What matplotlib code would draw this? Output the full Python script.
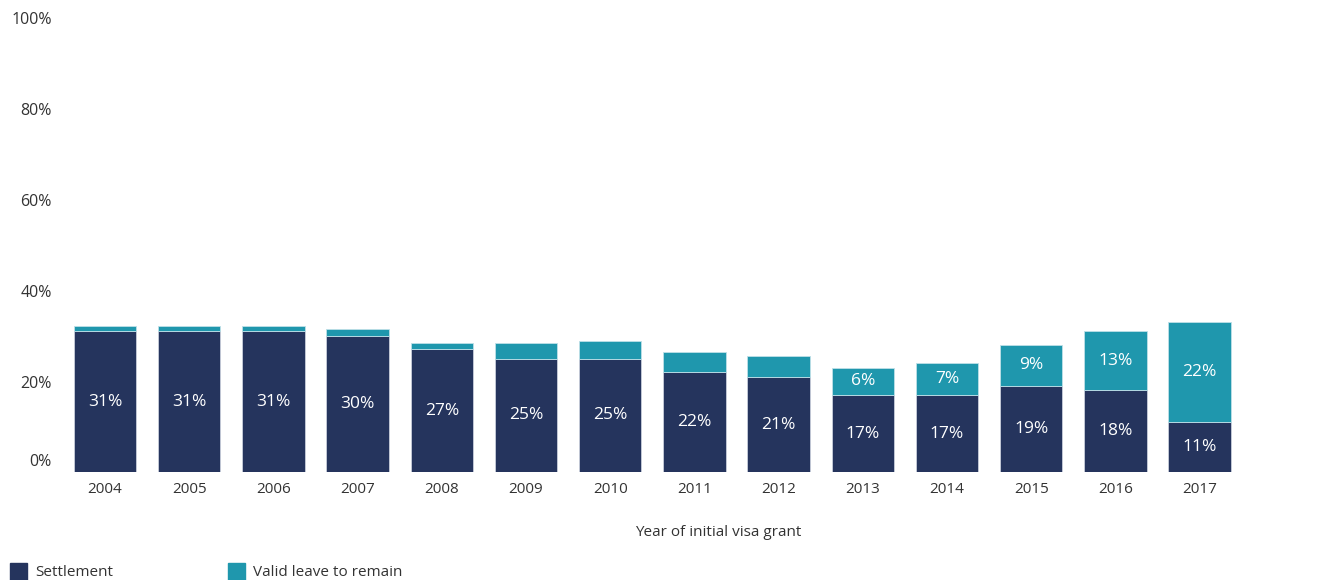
import matplotlib
matplotlib.use("Agg")
import matplotlib.pyplot as plt
import matplotlib.transforms as mtransforms
from matplotlib.patches import Rectangle

years = ["2004", "2005", "2006", "2007", "2008", "2009", "2010",
         "2011", "2012", "2013", "2014", "2015", "2016", "2017"]
settlement = [31, 31, 31, 30, 27, 25, 25, 22, 21, 17, 17, 19, 18, 11]
valid_leave = [1.2, 1.2, 1.2, 1.5, 1.5, 3.4, 3.9, 4.5, 4.5, 6, 7, 9, 13, 22]
# only segments large enough carry a value label
valid_labelled = [False] * 9 + [True] * 5
y_ticks = [0, 20, 40, 60, 80, 100]

NAVY = "#25345D"
TEAL = "#1F97AD"
TEXT = "#333333"
FONT = "Open Sans"

plt.rcParams["font.family"] = [FONT, "DejaVu Sans"]

fig = plt.figure(figsize=(13.33, 5.8), dpi=100)
ax = fig.add_axes([0.0472, 0.1857, 0.8843, 0.7845])

x = list(range(len(years)))
bar_w = 0.74
ax.bar(x, settlement, width=bar_w, color=NAVY, edgecolor="#c9cedb",
       linewidth=0.6, zorder=2)
ax.bar(x, valid_leave, width=bar_w, bottom=settlement, color=TEAL,
       edgecolor="#bfe0e8", linewidth=0.6, zorder=2)

for xi, s, v, lab in zip(x, settlement, valid_leave, valid_labelled):
    ax.text(xi, s / 2, f"{s}%", ha="center", va="center", color="white",
            fontsize=12.5, zorder=3)
    if lab:
        ax.text(xi, s + v / 2, f"{v:.0f}%", ha="center", va="center",
                color="white", fontsize=12.5, zorder=3)

ax.set_xlim(-0.5, len(years) - 0.5)
ax.set_ylim(0, 100)
ax.set_xticks(x)
ax.set_xticklabels(years, fontsize=11, color=TEXT)
ax.tick_params(axis="x", length=0, pad=7)
ax.set_yticks([])
for side in ["top", "right", "left", "bottom"]:
    ax.spines[side].set_visible(False)

# y-axis value labels; the bottom one is lifted to clear the baseline
ytrans = mtransforms.blended_transform_factory(ax.transAxes, ax.transData)
for t in y_ticks:
    dy = 10 if t == 0 else -3
    off = mtransforms.offset_copy(ytrans, fig=fig, x=-11, y=dy, units="dots")
    ax.text(0, t, f"{t}%", transform=off, ha="right", va="center",
            fontsize=11.5, color=TEXT)

fig.text(718 / 1333, 1 - 532 / 580, "Year of initial visa grant",
         ha="center", va="center", fontsize=11, color=TEXT)

# legend swatches along the bottom edge
legend_items = [("Settlement", NAVY, 10), ("Valid leave to remain", TEAL, 228)]
for label, color, px in legend_items:
    fig.patches.append(Rectangle((px / 1333, 0), 17 / 1333, 17 / 580,
                                 transform=fig.transFigure, color=color))
    fig.text((px + 25) / 1333, 1 - 573 / 580, label, ha="left", va="center",
             fontsize=11, color=TEXT)

fig.savefig("out.png", dpi=100)
